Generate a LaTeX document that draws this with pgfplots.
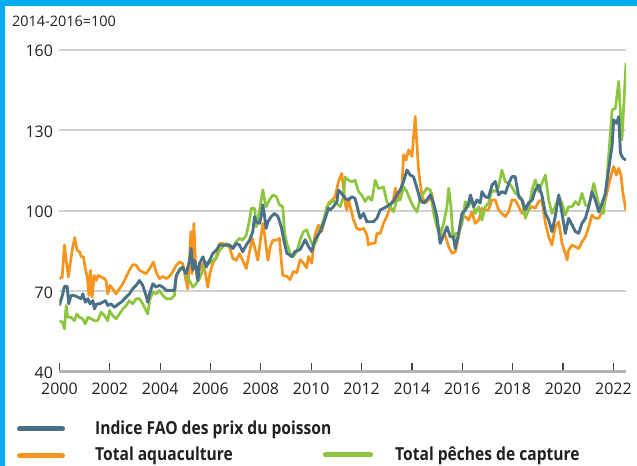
\documentclass[border=0pt]{standalone}
\usepackage{fontspec}
\setmainfont{Open Sans}
\newfontfamily\legfont{Open Sans}[FakeStretch=0.87]
\usepackage{pgfplots}
\usepackage{pgfplotstable}
\pgfplotsset{compat=1.18}

\definecolor{fao}{HTML}{4B7189}
\definecolor{aqua}{HTML}{F7941D}
\definecolor{capt}{HTML}{8CC63F}
\definecolor{frame}{HTML}{00AEEF}
\definecolor{gridc}{HTML}{D2D2D2}
\definecolor{txt}{HTML}{231F20}

% Indice FAO des prix du poisson (2014-2016=100)
\pgfplotstableread{
x v
2000.00 64.8
2000.13 69.0
2000.20 71.9
2000.31 71.9
2000.37 65.4
2000.46 68.5
2000.60 68.5
2000.73 67.9
2000.86 67.3
2000.93 69.1
2001.03 66.0
2001.13 67.3
2001.22 65.4
2001.33 66.6
2001.39 63.5
2001.48 65.4
2001.59 65.4
2001.72 66.0
2001.83 66.6
2001.92 64.8
2002.05 65.4
2002.19 64.1
2002.32 65.2
2002.45 66.0
2002.65 67.9
2002.78 69.1
2002.91 71.0
2003.05 72.3
2003.18 74.1
2003.31 72.3
2003.44 68.5
2003.51 66.0
2003.58 69.1
2003.71 72.9
2003.84 71.6
2003.97 72.3
2004.11 71.6
2004.24 70.4
2004.44 70.4
2004.57 70.4
2004.64 76.0
2004.77 77.9
2004.90 79.1
2005.03 76.6
2005.17 81.6
2005.23 86.0
2005.30 77.9
2005.36 81.6
2005.43 79.1
2005.50 74.1
2005.56 80.4
2005.70 82.9
2005.83 79.1
2005.96 81.6
2006.09 84.1
2006.23 85.4
2006.36 87.3
2006.49 87.3
2006.62 87.3
2006.75 87.3
2006.89 86.0
2007.02 87.9
2007.15 87.3
2007.28 84.8
2007.42 87.3
2007.55 89.1
2007.68 92.3
2007.75 97.9
2007.81 96.0
2007.95 95.4
2008.01 97.9
2008.08 102.3
2008.15 97.9
2008.21 93.5
2008.28 96.0
2008.41 97.9
2008.54 99.1
2008.68 97.9
2008.81 94.1
2008.94 87.9
2009.03 84.3
2009.23 83.0
2009.36 84.9
2009.56 85.6
2009.76 89.3
2009.89 86.8
2010.02 84.9
2010.15 89.3
2010.35 92.3
2010.49 95.4
2010.62 99.1
2010.68 101.0
2010.75 100.4
2010.88 101.6
2011.02 103.5
2011.08 107.8
2011.21 106.5
2011.35 104.7
2011.48 104.1
2011.61 105.3
2011.74 104.7
2011.81 102.2
2011.94 97.3
2012.08 99.1
2012.21 96.0
2012.34 96.0
2012.47 96.0
2012.61 97.3
2012.74 100.4
2013.00 101.6
2013.27 103.5
2013.40 106.0
2013.53 107.8
2013.67 111.0
2013.80 115.3
2013.93 113.4
2014.06 112.8
2014.20 108.5
2014.33 104.1
2014.46 102.9
2014.59 104.1
2014.73 106.0
2014.86 102.9
2014.99 97.9
2015.12 87.9
2015.26 91.0
2015.39 94.1
2015.52 90.4
2015.65 90.4
2015.72 86.0
2015.85 91.6
2015.99 99.1
2016.12 100.4
2016.25 102.9
2016.32 106.0
2016.45 101.6
2016.58 104.1
2016.71 103.0
2016.78 107.2
2016.91 105.3
2017.04 105.0
2017.18 109.7
2017.31 111.0
2017.44 106.0
2017.57 107.2
2017.71 106.6
2017.84 110.3
2017.97 112.8
2018.10 112.8
2018.24 105.3
2018.37 104.1
2018.50 100.4
2018.63 103.0
2018.77 104.1
2018.90 107.8
2019.03 109.7
2019.16 106.0
2019.30 99.1
2019.43 96.6
2019.56 92.3
2019.69 97.9
2019.83 106.0
2019.96 99.1
2020.09 91.6
2020.22 97.3
2020.36 94.8
2020.49 92.3
2020.62 91.7
2020.75 95.4
2020.89 97.3
2021.02 101.6
2021.15 107.2
2021.28 104.1
2021.42 99.7
2021.55 102.9
2021.68 106.6
2021.81 115.3
2021.95 124.6
2022.01 134.0
2022.12 132.7
2022.21 135.2
2022.28 121.5
2022.38 119.7
2022.50 119.0
}\faodata

% Total aquaculture
\pgfplotstableread{
x v
2000.00 74.8
2000.11 75.3
2000.20 87.3
2000.27 81.6
2000.36 75.4
2000.44 81.0
2000.53 86.6
2000.61 90.1
2000.70 85.4
2000.80 84.8
2000.87 82.9
2000.95 83.0
2001.03 78.5
2001.11 75.4
2001.17 68.5
2001.23 77.9
2001.30 67.9
2001.38 76.0
2001.46 74.1
2001.54 76.0
2001.66 75.4
2001.79 74.8
2001.85 74.1
2001.92 69.1
2002.01 72.3
2002.12 71.0
2002.25 69.1
2002.38 71.0
2002.52 72.9
2002.65 75.4
2002.78 77.9
2002.91 80.0
2003.05 79.8
2003.18 77.9
2003.31 77.3
2003.44 76.6
2003.58 78.5
2003.74 81.0
2003.84 77.3
2003.97 74.8
2004.11 75.6
2004.24 74.8
2004.37 75.6
2004.50 77.3
2004.64 79.8
2004.77 81.0
2004.90 80.4
2005.01 74.8
2005.10 71.0
2005.17 82.9
2005.22 92.3
2005.27 76.6
2005.34 95.4
2005.40 81.6
2005.47 74.8
2005.56 77.9
2005.70 80.4
2005.80 76.6
2005.89 71.6
2005.99 77.3
2006.09 80.4
2006.23 82.9
2006.36 87.9
2006.49 87.9
2006.62 87.3
2006.75 86.6
2006.89 82.3
2007.02 81.6
2007.15 84.1
2007.28 81.6
2007.42 78.5
2007.55 84.8
2007.66 89.8
2007.75 86.6
2007.88 81.6
2007.99 89.8
2008.08 95.4
2008.17 89.8
2008.28 81.6
2008.37 86.6
2008.48 89.1
2008.61 89.1
2008.74 89.8
2008.81 81.6
2008.87 76.0
2009.03 75.7
2009.16 74.4
2009.29 77.5
2009.43 77.0
2009.56 81.9
2009.69 80.6
2009.82 78.8
2009.89 83.1
2010.02 80.6
2010.15 91.1
2010.29 94.8
2010.42 92.3
2010.55 97.9
2010.68 102.8
2010.82 104.0
2010.95 105.3
2011.08 110.9
2011.21 114.0
2011.28 109.0
2011.35 102.8
2011.41 100.4
2011.48 104.7
2011.55 101.6
2011.68 96.7
2011.81 93.6
2011.94 93.0
2012.08 93.6
2012.21 91.1
2012.27 87.4
2012.41 88.0
2012.54 88.0
2012.61 91.7
2012.74 91.6
2012.87 95.4
2013.00 97.9
2013.14 101.6
2013.27 104.7
2013.34 108.5
2013.47 104.1
2013.60 109.0
2013.67 121.0
2013.77 119.0
2013.87 122.8
2014.00 120.3
2014.13 135.2
2014.26 115.3
2014.40 105.3
2014.53 103.0
2014.66 104.1
2014.79 106.6
2014.93 97.9
2015.06 94.1
2015.19 90.4
2015.32 91.0
2015.46 86.7
2015.59 84.2
2015.72 84.8
2015.85 90.4
2015.99 97.9
2016.12 97.9
2016.25 96.6
2016.38 99.7
2016.51 95.4
2016.65 96.6
2016.78 101.0
2016.91 100.4
2017.04 100.4
2017.18 104.1
2017.31 104.1
2017.44 100.4
2017.57 99.1
2017.71 97.9
2017.84 99.7
2017.97 104.1
2018.10 104.1
2018.24 101.6
2018.37 99.1
2018.50 101.6
2018.63 100.4
2018.77 101.6
2018.90 101.0
2019.03 103.5
2019.16 104.1
2019.30 95.4
2019.43 90.4
2019.56 87.3
2019.69 94.1
2019.83 96.0
2019.96 87.9
2020.09 84.2
2020.16 81.7
2020.22 85.4
2020.36 87.3
2020.49 86.7
2020.62 86.0
2020.75 88.5
2020.89 90.4
2021.02 94.1
2021.15 98.5
2021.28 97.3
2021.42 97.3
2021.55 99.7
2021.68 104.1
2021.81 109.7
2021.95 114.7
2022.01 116.6
2022.12 113.4
2022.21 115.9
2022.30 113.4
2022.38 106.6
2022.50 100.1
}\aquadata

% Total peches de capture
\pgfplotstableread{
x v
2000.00 59.1
2000.13 58.5
2000.20 56.0
2000.27 64.8
2000.33 60.4
2000.46 60.4
2000.60 59.1
2000.69 61.6
2000.80 60.4
2000.93 59.8
2001.03 57.9
2001.13 60.4
2001.26 59.8
2001.39 59.1
2001.52 59.1
2001.66 62.3
2001.79 61.0
2001.92 59.1
2001.99 62.9
2002.12 61.0
2002.25 59.8
2002.38 61.6
2002.52 63.5
2002.65 64.8
2002.78 66.6
2002.91 65.4
2003.05 67.3
2003.18 67.3
2003.31 65.4
2003.44 62.9
2003.51 61.6
2003.58 66.6
2003.71 69.8
2003.84 69.1
2003.97 70.4
2004.11 68.5
2004.24 67.3
2004.44 67.3
2004.57 68.5
2004.64 75.4
2004.77 78.5
2004.90 79.1
2005.03 75.4
2005.17 74.1
2005.30 71.6
2005.43 72.9
2005.56 74.8
2005.70 77.9
2005.83 81.0
2005.96 80.4
2006.09 81.6
2006.23 82.3
2006.36 85.4
2006.49 86.6
2006.62 87.9
2006.75 87.3
2006.89 86.6
2007.02 88.5
2007.15 89.8
2007.28 89.1
2007.42 91.0
2007.55 96.6
2007.62 101.0
2007.68 101.0
2007.75 101.0
2007.82 94.1
2007.95 100.4
2008.08 107.9
2008.15 104.0
2008.21 101.6
2008.34 104.1
2008.48 106.0
2008.61 105.4
2008.74 102.3
2008.87 101.6
2008.94 92.3
2009.03 88.0
2009.16 84.3
2009.29 83.0
2009.43 85.0
2009.56 89.3
2009.69 92.3
2009.82 93.0
2009.96 89.3
2010.09 86.8
2010.22 89.3
2010.35 93.0
2010.49 96.7
2010.62 101.6
2010.75 102.8
2010.88 104.0
2011.02 102.8
2011.15 101.6
2011.28 105.3
2011.35 112.7
2011.48 111.5
2011.61 110.9
2011.74 111.5
2011.88 107.2
2012.01 105.9
2012.14 103.5
2012.27 105.3
2012.41 104.0
2012.54 111.5
2012.67 108.4
2012.74 108.5
2012.87 109.0
2013.00 103.5
2013.14 101.6
2013.27 99.7
2013.40 104.1
2013.53 104.1
2013.67 109.0
2013.80 107.2
2013.93 104.1
2014.06 101.6
2014.20 99.7
2014.33 104.7
2014.46 106.6
2014.59 108.5
2014.73 107.8
2014.86 99.1
2014.99 94.1
2015.12 91.0
2015.26 95.4
2015.39 101.6
2015.46 108.5
2015.55 101.6
2015.63 89.2
2015.72 91.6
2015.85 91.6
2015.99 95.4
2016.12 103.5
2016.25 101.6
2016.38 104.7
2016.51 99.1
2016.65 101.6
2016.78 96.6
2016.91 101.6
2017.04 102.9
2017.18 107.8
2017.31 107.2
2017.44 109.0
2017.57 115.3
2017.71 110.9
2017.84 110.3
2017.97 109.0
2018.10 106.6
2018.24 106.0
2018.37 104.1
2018.50 97.3
2018.63 100.4
2018.77 107.8
2018.90 111.6
2019.03 107.2
2019.16 110.3
2019.30 113.4
2019.43 104.1
2019.56 99.1
2019.69 101.6
2019.83 105.3
2019.96 102.9
2020.09 98.5
2020.22 101.6
2020.36 101.6
2020.49 103.5
2020.62 102.3
2020.75 106.6
2020.89 102.3
2021.02 101.6
2021.22 110.3
2021.35 105.3
2021.48 99.7
2021.61 99.1
2021.74 111.6
2021.95 137.7
2022.08 138.3
2022.21 148.3
2022.28 136.5
2022.34 126.5
2022.50 155.2
}\captdata

\begin{document}
\begin{tikzpicture}
\useasboundingbox (0,0) rectangle (637bp,466bp);
\fill[white] (0,0) rectangle (637bp,466bp);
% cadre bleu (haut et gauche)
\fill[frame] (0,0) rectangle (4.5bp,466bp);
\fill[frame] (0,459.5bp) rectangle (637bp,466bp);

\node[anchor=west, inner sep=0pt, text=txt, font=\fontsize{14.5}{16}\selectfont]
  at (12bp,445bp) {2014-2016=100};

\begin{axis}[
  at={(59.4bp,94bp)}, anchor=south west,
  scale only axis, width=566.6bp, height=322bp,
  xmin=2000, xmax=2022.5, ymin=40, ymax=160,
  axis lines=left,
  axis line style={-},
  y axis line style={draw=none},
  x axis line style={draw=black!30, line width=3bp},
  xtick={2000,2002,...,2022},
  ytick={40,70,100,130,160},
  tick align=inside,
  major tick length=9bp,
  xtick style={draw=txt!85, line width=1.1bp},
  ytick style={draw=none},
  ymajorgrids,
  grid style={draw=gridc, line width=2bp},
  /pgf/number format/1000 sep={},
  /pgf/number format/assume math mode=true,
  tick label style={text=txt, font=\fontsize{16}{18}\selectfont},
  yticklabel style={xshift=-3bp, yshift=-1bp},
  xticklabel style={yshift=-7bp},
  every axis plot/.append style={line join=round},
]
\addplot[aqua, line width=2.7bp] table[x=x, y=v] {\aquadata};
\addplot[capt, line width=2.7bp] table[x=x, y=v] {\captdata};
\addplot[fao, line width=2.9bp] table[x=x, y=v] {\faodata};
\end{axis}

% legende
\draw[fao, line width=5bp, line cap=round] (19.5bp,37bp) -- (62.5bp,37bp);
\draw[aqua, line width=5bp, line cap=round] (19.5bp,10bp) -- (62.5bp,10bp);
\draw[capt, line width=5bp, line cap=round] (325.5bp,11bp) -- (370.5bp,11bp);
\node[anchor=base west, inner sep=0pt, text=txt, font=\legfont\bfseries\fontsize{18}{20}\selectfont]
  at (95bp,32bp) {Indice FAO des prix du poisson};
\node[anchor=base west, inner sep=0pt, text=txt, font=\legfont\bfseries\fontsize{18}{20}\selectfont]
  at (95bp,6bp) {Total aquaculture};
\node[anchor=base west, inner sep=0pt, text=txt, font=\legfont\bfseries\fontsize{18}{20}\selectfont]
  at (395bp,6bp) {Total pêches de capture};
\end{tikzpicture}
\end{document}
